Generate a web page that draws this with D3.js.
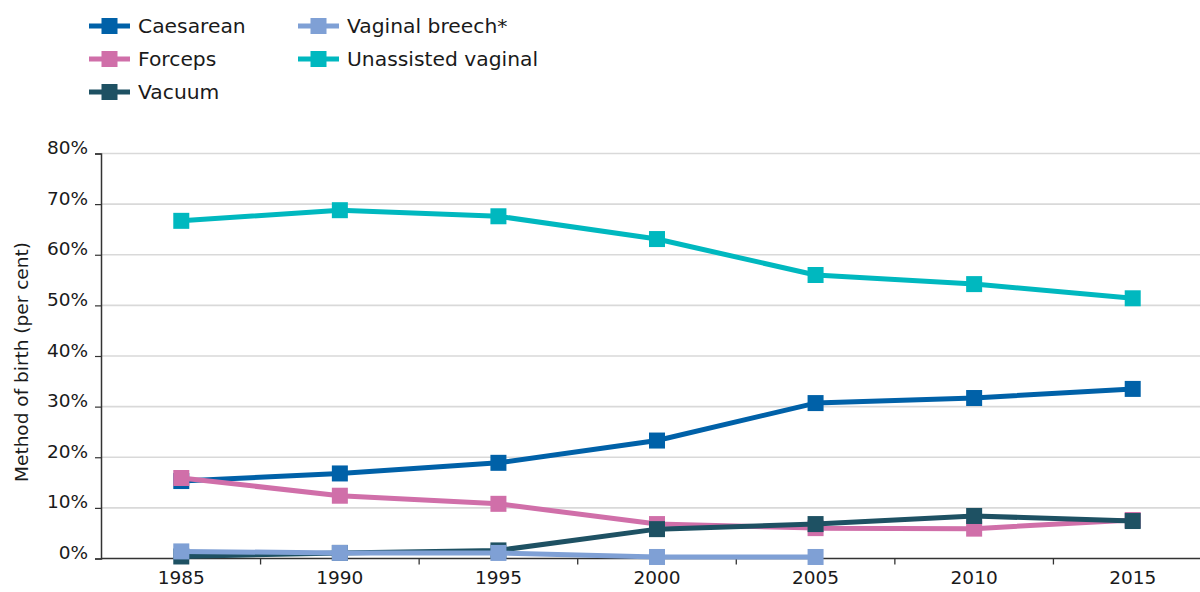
<!DOCTYPE html>
<html>
<head>
<meta charset="utf-8">
<script src="https://cdn.jsdelivr.net/npm/d3@7"></script>
<style>
  html, body { margin: 0; padding: 0; background: #fff; }
  svg { display: block; font-family: "DejaVu Sans", sans-serif; }
</style>
</head>
<body>
<svg id="chart" width="1200" height="592"></svg>
<script>
const years = ["1985", "1990", "1995", "2000", "2005", "2010", "2015"];
const yTicks = [0, 10, 20, 30, 40, 50, 60, 70, 80];
const caesarean = [15.3, 16.8, 18.9, 23.3, 30.7, 31.7, 33.5];
const forceps = [15.9, 12.4, 10.8, 6.8, 6.0, 5.9, 7.6];
const vacuum = [0.4, 1.1, 1.6, 5.8, 6.8, 8.4, 7.4];
const vaginalBreech = [1.4, 1.1, 1.1, 0.3, 0.3, null, null];
const unassistedVaginal = [66.7, 68.8, 67.6, 63.1, 56.0, 54.2, 51.4];
const seriesNames = ["Caesarean", "Forceps", "Vacuum", "Vaginal breech*", "Unassisted vaginal"];
const seriesColors = ["#0061a8", "#d06fa9", "#1e5163", "#7fa0d5", "#00b8bf"];
const yTitle = "Method of birth (per cent)";

const seriesValues = [caesarean, forceps, vacuum, vaginalBreech, unassistedVaginal];
const series = seriesNames.map((name, i) => ({
  name, color: seriesColors[i],
  values: years.map((y, j) => ({ year: y, v: seriesValues[i][j] }))
}));

const svg = d3.select("#chart");
const x = d3.scaleBand().domain(years).range([102, 1212]).padding(0);
const y = d3.scaleLinear().domain([0, 80]).range([558.5, 153.5]);

// gridlines
svg.append("g").selectAll("line").data(yTicks.filter(t => t > 0)).join("line")
  .attr("x1", 101).attr("x2", 1212)
  .attr("y1", d => y(d)).attr("y2", d => y(d))
  .attr("stroke", "#d9d9d9").attr("stroke-width", 1.6);

// y axis
const yAxis = d3.axisLeft(y).tickValues(yTicks).tickFormat(d => d + "%").tickSize(6).tickPadding(7);
const gy = svg.append("g").attr("transform", "translate(101,0)").call(yAxis);
gy.select(".domain").attr("stroke", "#333").attr("stroke-width", 1.5);
gy.selectAll(".tick line").attr("stroke", "#333").attr("stroke-width", 1.2);
gy.selectAll(".tick text").attr("font-size", 18.5).attr("fill", "#1a1a1a")
  .attr("font-family", "DejaVu Sans, sans-serif").attr("dy", "0.0em");

// x axis
const xAxis = d3.axisBottom(x).tickSize(0).tickPadding(12);
const gx = svg.append("g").attr("transform", "translate(0,558.5)").call(xAxis);
gx.select(".domain").remove();
gx.append("line").attr("x1", 101).attr("x2", 1212).attr("y1", 0).attr("y2", 0)
  .attr("stroke", "#333").attr("stroke-width", 1.5);
gx.selectAll(".tick text").attr("font-size", 18.5).attr("fill", "#1a1a1a")
  .attr("font-family", "DejaVu Sans, sans-serif");
// band boundary ticks
gx.append("g").selectAll("line").data(years.slice(1)).join("line")
  .attr("x1", d => x(d)).attr("x2", d => x(d))
  .attr("y1", 0).attr("y2", 6)
  .attr("stroke", "#333").attr("stroke-width", 1.3);

// y title
svg.append("text")
  .attr("transform", `translate(28,${(153.5 + 558.5) / 2 + 6}) rotate(-90)`)
  .attr("text-anchor", "middle")
  .attr("font-size", 18.5).attr("fill", "#1a1a1a")
  .text(yTitle);

// lines
const line = d3.line()
  .defined(d => d.v !== null)
  .x(d => x(d.year) + x.bandwidth() / 2)
  .y(d => y(d.v));

const ms = 16;
series.forEach(s => {
  const g = svg.append("g");
  g.append("path").datum(s.values).attr("d", line)
    .attr("fill", "none").attr("stroke", s.color).attr("stroke-width", 5)
    .attr("stroke-linejoin", "round");
  g.selectAll("rect").data(s.values.filter(d => d.v !== null)).join("rect")
    .attr("x", d => x(d.year) + x.bandwidth() / 2 - ms / 2)
    .attr("y", d => y(d.v) - ms / 2)
    .attr("width", ms).attr("height", ms)
    .attr("fill", s.color);
});

// legend
const legendPos = [
  { lx: 89, ty: 26 }, { lx: 89, ty: 59 }, { lx: 89, ty: 92 },
  { lx: 298, ty: 26 }, { lx: 298, ty: 59 }
];
const lg = svg.append("g");
series.forEach((s, i) => {
  const p = legendPos[i];
  lg.append("line").attr("x1", p.lx).attr("x2", p.lx + 41)
    .attr("y1", p.ty).attr("y2", p.ty)
    .attr("stroke", s.color).attr("stroke-width", 5);
  lg.append("rect").attr("x", p.lx + 20.5 - ms / 2).attr("y", p.ty - ms / 2)
    .attr("width", ms).attr("height", ms).attr("fill", s.color);
  lg.append("text").attr("x", p.lx + 49).attr("y", p.ty).attr("dy", "0.36em")
    .attr("font-size", 20.3).attr("fill", "#1a1a1a").text(s.name);
});
</script>
</body>
</html>
